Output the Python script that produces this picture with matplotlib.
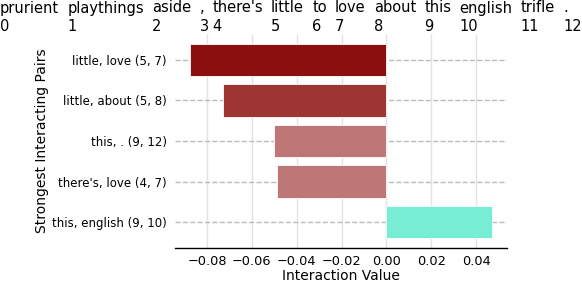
import matplotlib
matplotlib.use("Agg")
import matplotlib.pyplot as plt

# tokens of the sentence (index = position)
tokens = ["prurient", "playthings", "aside", ",", "there's", "little", "to",
          "love", "about", "this", "english", "trifle", "."]

# strongest interacting pairs and their values
pairs = ["little, love (5, 7)", "little, about (5, 8)", "this, . (9, 12)",
         "there's, love (4, 7)", "this, english (9, 10)"]
values = [-0.0875, -0.0728, -0.0503, -0.0488, 0.0469]
bar_colors = ["#8B0F0F", "#9E3535", "#BE7776", "#BE7776", "#77EDD3"]

plt.rcParams["font.family"] = ["DejaVu Sans"]

fig = plt.figure(figsize=(5.82, 2.85), dpi=100)
ax = fig.add_axes([0.3007, 0.1298, 0.5699, 0.7509])

ypos = list(range(len(pairs)))
ax.barh(ypos, values, height=0.8, color=bar_colors, edgecolor="white",
        linewidth=0.6, zorder=3)
ax.invert_yaxis()
ax.set_yticks(ypos)
ax.set_yticklabels(pairs)

ax.set_xticks([-0.08, -0.06, -0.04, -0.02, 0.0, 0.02, 0.04])
ax.set_xticklabels(["\u22120.08", "\u22120.06", "\u22120.04", "\u22120.02",
                    "0.00", "0.02", "0.04"])

ax.grid(axis="x", color="#E3E3E3", linewidth=1, zorder=0)
ax.grid(axis="y", color="#BBBBBB", linestyle="--", linewidth=1, zorder=0)
for s in ["top", "right", "left"]:
    ax.spines[s].set_visible(False)
ax.spines["bottom"].set_linewidth(1.0)
ax.tick_params(axis="y", length=0, pad=6, labelsize=8.5)
ax.tick_params(axis="x", length=0, pad=5, labelsize=9.3)

ax.set_xlabel("Interaction Value", fontsize=10, labelpad=0.5)
ax.set_ylabel("Strongest Interacting Pairs", fontsize=10, labelpad=2)

# token row with indices above the chart
renderer = fig.canvas.get_renderer()
gap_px = 8.2
x_px = 0.0
tok_y = 1 - 12.5 / 285
idx_y = 1 - 31.0 / 285
for i, tok in enumerate(tokens):
    t = fig.text(x_px / 582, tok_y, tok, fontsize=10.5, ha="left", va="baseline")
    fig.text(x_px / 582, idx_y, str(i), fontsize=10.5, ha="left", va="baseline")
    w = t.get_window_extent(renderer=renderer).width
    x_px += w + gap_px

fig.savefig("out.png", dpi=100)
